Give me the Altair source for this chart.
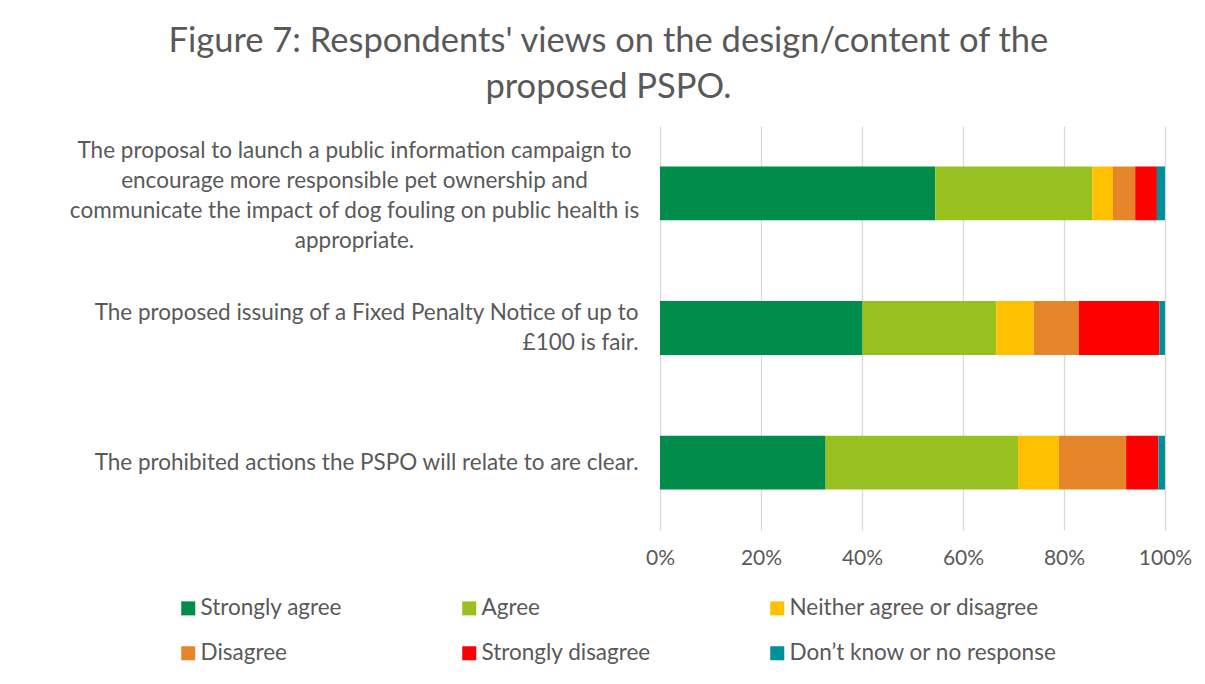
import altair as alt
import pandas as pd

categories = [
    "The proposal to launch a public information campaign to\nencourage more responsible pet ownership and\ncommunicate the impact of dog fouling on public health is\nappropriate.",
    "The proposed issuing of a Fixed Penalty Notice of up to\n£100 is fair.",
    "The prohibited actions the PSPO will relate to are clear.",
]
responses = [
    "Strongly agree",
    "Agree",
    "Neither agree or disagree",
    "Disagree",
    "Strongly disagree",
    "Don\u2019t know or no response",
]
colors = ["#008C4B", "#98C11F", "#FFC000", "#E6862A", "#FF0000", "#009099"]

strongly_agree = [54.5, 40.1, 32.8]
agree = [31.1, 26.5, 38.1]
neither = [4.1, 7.4, 8.1]
disagree = [4.4, 8.9, 13.3]
strongly_disagree = [4.3, 16.0, 6.4]
dont_know = [1.6, 1.1, 1.3]

series = [strongly_agree, agree, neither, disagree, strongly_disagree, dont_know]
rows = []
for ri, (resp, vals) in enumerate(zip(responses, series)):
    for cat, v in zip(categories, vals):
        rows.append({"statement": cat, "response": resp, "order": ri, "pct": v})
df = pd.DataFrame(rows)

FONT = "Lato"
GREY = "#595959"
T1 = "indexof(datum.value, 'campaign') >= 0"
T2 = "indexof(datum.value, 'Fixed Penalty') >= 0"

chart = (
    alt.Chart(df)
    .mark_bar()
    .encode(
        y=alt.Y(
            "statement:N",
            sort=categories,
            scale=alt.Scale(paddingInner=0.6, paddingOuter=0.3),
            axis=alt.Axis(
                title=None,
                domain=False,
                ticks=False,
                labelExpr="split(datum.label, '\\n')",
                labelFont=FONT,
                labelFontSize=22.5,
                labelColor=GREY,
                labelLineHeight=30,
                labelLimit=0,
                labelBaseline="middle",
                labelAlign={"condition": {"test": T1, "value": "center"}, "value": "right"},
                labelPadding={"condition": {"test": T1, "value": 306}, "value": 22},
                labelOffset={"condition": [{"test": T1, "value": -42}, {"test": T2, "value": -15}], "value": 0},
            ),
        ),
        x=alt.X(
            "pct:Q",
            stack="normalize",
            scale=alt.Scale(domain=[0, 1]),
            axis=alt.Axis(
                title=None,
                format=".0%",
                values=[0, 0.2, 0.4, 0.6, 0.8, 1.0],
                domain=False,
                ticks=False,
                grid=True,
                gridColor="#D9D9D9",
                gridWidth=1.3,
                labelFont=FONT,
                labelFontSize=21,
                labelColor=GREY,
                labelPadding=17,
                labelFlush=False,
            ),
        ),
        color=alt.Color(
            "response:N",
            sort=responses,
            scale=alt.Scale(domain=responses, range=colors),
            legend=alt.Legend(
                title=None,
                orient="none",
                legendX=-483,
                legendY=471,
                direction="horizontal",
                columns=3,
                columnPadding=115,
                rowPadding=22,
                symbolType="square",
                symbolSize=196,
                symbolStrokeWidth=0,
                symbolOpacity=1,
                labelFont=FONT,
                labelFontSize=22.5,
                labelColor=GREY,
                labelOffset=1,
                labelLimit=0,
                padding=0,
            ),
        ),
        order=alt.Order("order:Q"),
    )
    .properties(
        width=505,
        height=404,
        autosize=alt.AutoSizeParams(type="none"),
        padding={"left": 652, "top": 118, "right": 32, "bottom": 146},
        title=alt.TitleParams(
            text=[
                "Figure 7: Respondents' views on the design/content of the",
                "proposed PSPO.",
            ],
            font=FONT,
            fontSize=34.5,
            fontWeight="normal",
            color=GREY,
            lineHeight=46,
            anchor="middle",
            frame="bounds",
            offset=21,
            dx=-22,
        ),
    )
    .configure_view(stroke=None)
)

chart.save("out.html", embed_options={"renderer": "svg", "actions": False})
